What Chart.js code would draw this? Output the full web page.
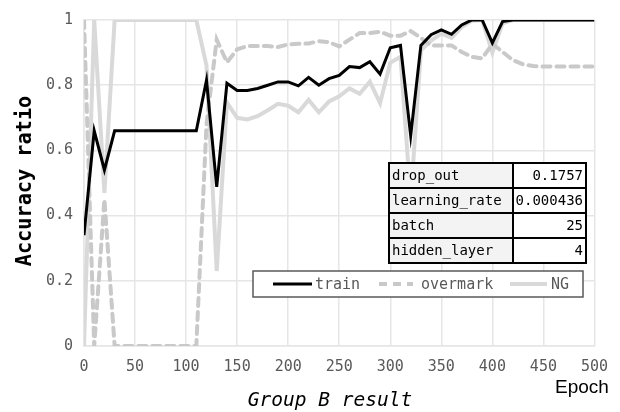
<!DOCTYPE html>
<html>
<head>
<meta charset="utf-8">
<script src="https://cdn.jsdelivr.net/npm/chart.js@4/dist/chart.umd.min.js"></script>
<style>
html,body{margin:0;padding:0;background:#fff;}
#wrap{width:620px;height:412px;position:relative;}
</style>
</head>
<body>
<div id="wrap"><canvas id="c" width="620" height="412"></canvas></div>
<script>
// ---- data ----
const epochs = [0,10,20,30,40,50,60,70,80,90,100,110,120,130,140,150,160,170,180,190,200,210,220,230,240,250,260,270,280,290,300,310,320,330,340,350,360,370,380,390,400,410,420,430,440,450,460,470,480,490,500];
const train = [0.34,0.66,0.54,0.66,0.66,0.66,0.66,0.66,0.66,0.66,0.66,0.66,0.815,0.488,0.806,0.784,0.784,0.79,0.80,0.81,0.81,0.798,0.824,0.80,0.82,0.83,0.857,0.854,0.872,0.834,0.915,0.922,0.645,0.922,0.955,0.97,0.956,0.985,1.0,1.0,0.93,0.995,1.0,1.0,1.0,1.0,1.0,1.0,1.0,1.0,1.0];
const overmark = [1.0,0,0.45,0,0,0,0,0,0,0,0,0,0.68,0.94,0.87,0.91,0.92,0.92,0.92,0.917,0.925,0.927,0.928,0.935,0.932,0.919,0.94,0.96,0.96,0.964,0.952,0.952,0.966,0.945,0.922,0.922,0.922,0.902,0.887,0.882,0.927,0.902,0.877,0.864,0.859,0.857,0.857,0.857,0.857,0.857,0.857];
const ng = [0,1.0,0.47,1.0,1.0,1.0,1.0,1.0,1.0,1.0,1.0,1.0,0.86,0.23,0.747,0.70,0.695,0.705,0.723,0.743,0.737,0.717,0.755,0.717,0.75,0.766,0.79,0.774,0.811,0.745,0.869,0.887,0.45,0.907,0.937,0.958,0.945,0.978,0.998,1.0,0.90,0.99,1.0,1.0,1.0,1.0,1.0,1.0,1.0,1.0,1.0];
const seriesNames = ["train","overmark","NG"];
const paramNames = ["drop_out","learning_rate","batch","hidden_layer"];
const paramValues = ["0.1757","0.000436","25","4"];
const xTicks = [0,50,100,150,200,250,300,350,400,450,500];
const yTicks = [0,0.2,0.4,0.6,0.8,1];
const yTickLabels = ["0","0.2","0.4","0.6","0.8","1"];

const toPts = arr => epochs.map((e,i)=>({x:e,y:arr[i]}));
const MONO = '"DejaVu Sans Mono","Liberation Mono",monospace';
const styles = [
  {color:'#000000', width:3, dash:[]},
  {color:'#c9c9c9', width:4, dash:[8,6]},
  {color:'#d9d9d9', width:4, dash:[]}
];

const overlay = {
  id:'overlay',
  afterDraw(chart){
    const ctx = chart.ctx;
    ctx.save();
    // legend
    const lx=253, ly=271, lw=330, lh=26;
    ctx.fillStyle='#fff';
    ctx.fillRect(lx,ly,lw,lh);
    ctx.strokeStyle='#595959'; ctx.lineWidth=1.5;
    ctx.strokeRect(lx,ly,lw,lh);
    const items=[{x1:273,x2:312,tx:315},{x1:379,x2:413,tx:421},{x1:510,x2:547,tx:551}];
    const cy = ly+lh/2;
    items.forEach((it,i)=>{
      const s=styles[i];
      ctx.beginPath();
      ctx.strokeStyle=s.color; ctx.lineWidth=s.width; ctx.setLineDash(s.dash); ctx.lineCap='butt';
      ctx.moveTo(it.x1,cy); ctx.lineTo(it.x2,cy); ctx.stroke();
      ctx.setLineDash([]);
      ctx.fillStyle='#595959'; ctx.font='15px '+MONO; ctx.textAlign='left'; ctx.textBaseline='middle';
      ctx.fillText(seriesNames[i], it.tx, cy+1);
    });
    // table
    const tx=389, ty=163, tw=197, rh=25, split=513;
    paramNames.forEach((n,i)=>{
      const y=ty+i*rh;
      ctx.fillStyle='#f3f3f3'; ctx.fillRect(tx,y,split-tx,rh);
      ctx.fillStyle='#ffffff'; ctx.fillRect(split,y,tx+tw-split,rh);
      ctx.fillStyle='#000'; ctx.font='14px '+MONO; ctx.textBaseline='middle';
      ctx.textAlign='left'; ctx.fillText(n, tx+3, y+rh/2+1);
      ctx.textAlign='right'; ctx.fillText(paramValues[i], tx+tw-3, y+rh/2+1);
    });
    ctx.strokeStyle='#000'; ctx.lineWidth=2;
    ctx.strokeRect(tx,ty,tw,rh*paramNames.length);
    for(let i=1;i<paramNames.length;i++){
      ctx.beginPath(); ctx.moveTo(tx,ty+i*rh); ctx.lineTo(tx+tw,ty+i*rh); ctx.stroke();
    }
    ctx.beginPath(); ctx.moveTo(split,ty); ctx.lineTo(split,ty+rh*paramNames.length); ctx.stroke();
    // y title
    ctx.save();
    ctx.translate(25,181); ctx.rotate(-Math.PI/2); ctx.scale(0.92,1);
    ctx.fillStyle='#000'; ctx.font='bold 22px '+MONO; ctx.textAlign='center'; ctx.textBaseline='middle';
    ctx.fillText('Accuracy ratio',0,0);
    ctx.restore();
    // x title
    ctx.fillStyle='#000'; ctx.font='italic 19.5px '+MONO; ctx.textAlign='center'; ctx.textBaseline='middle';
    ctx.fillText('Group B result',330,401);
    ctx.font='19px "Liberation Sans", Arial, sans-serif'; ctx.textAlign='left';
    ctx.fillText('Epoch',555,388);
    ctx.restore();
  }
};

new Chart(document.getElementById('c'),{
  type:'line',
  data:{datasets:[
    {label:seriesNames[0], data:toPts(train), borderColor:styles[0].color, borderWidth:styles[0].width, pointRadius:0, tension:0, fill:false, borderJoinStyle:'miter'},
    {label:seriesNames[1], data:toPts(overmark), borderColor:styles[1].color, borderWidth:styles[1].width, borderDash:styles[1].dash, borderCapStyle:'round', pointRadius:0, tension:0, fill:false},
    {label:seriesNames[2], data:toPts(ng), borderColor:styles[2].color, borderWidth:styles[2].width, pointRadius:0, tension:0, fill:false}
  ]},
  options:{
    responsive:false, animation:false, devicePixelRatio:1,
    layout:{padding:{left:0,right:25,top:16,bottom:0}},
    plugins:{legend:{display:false}, tooltip:{enabled:false}},
    scales:{
      x:{type:'linear', min:0, max:500,
        afterBuildTicks(s){ s.ticks = xTicks.map(v=>({value:v})); },
        afterFit(s){ s.height=66; },
        grid:{color:'#e6e6e6', lineWidth:1.5, drawTicks:false},
        border:{color:'#e6e6e6', width:1.5},
        ticks:{color:'#595959', font:{family:MONO, size:15}, padding:12, maxRotation:0, autoSkip:false,
          callback:(v)=>String(v)}
      },
      y:{type:'linear', min:0, max:1,
        afterBuildTicks(s){ s.ticks = yTicks.map(v=>({value:v})); },
        afterFit(s){ s.width=84; },
        grid:{color:'#e6e6e6', lineWidth:1.5, drawTicks:false},
        border:{color:'#e6e6e6', width:1.5},
        ticks:{color:'#595959', font:{family:MONO, size:15}, padding:11,
          callback:(v)=>{ const k=yTicks.findIndex(t=>Math.abs(t-v)<1e-9); return k>=0?yTickLabels[k]:''; }}
      }
    }
  },
  plugins:[overlay]
});
</script>
</body>
</html>
